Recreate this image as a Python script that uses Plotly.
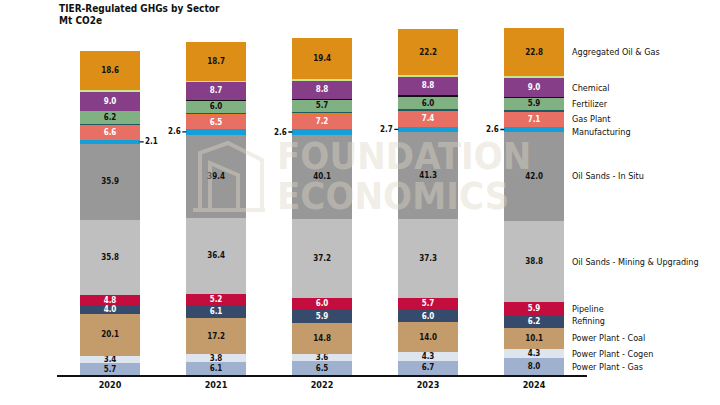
import plotly.graph_objects as go

years = ["2020", "2021", "2022", "2023", "2024"]
totals = [153.9, 158.3, 160.0, 164.5, 164.7]

# bottom to top
series_names = [
    "Power Plant - Gas", "Power Plant - Cogen", "Power Plant - Coal", "Refining",
    "Pipeline", "Oil Sands - Mining & Upgrading", "Oil Sands - In Situ",
    "Manufacturing", "Gas Plant", "Other A", "Other B", "Fertilizer", "Other C",
    "Chemical", "Other D", "Aggregated Oil & Gas",
]
pp_gas = [5.7, 6.1, 6.5, 6.7, 8.0]
pp_cogen = [3.4, 3.8, 3.6, 4.3, 4.3]
pp_coal = [20.1, 17.2, 14.8, 14.0, 10.1]
refining = [4.0, 6.1, 5.9, 6.0, 6.2]
pipeline = [4.8, 5.2, 6.0, 5.7, 5.9]
os_mining = [35.8, 36.4, 37.2, 37.3, 38.8]
os_insitu = [35.9, 39.4, 40.1, 41.3, 42.0]
manufacturing = [2.1, 2.6, 2.6, 2.7, 2.6]
gas_plant = [6.6, 6.5, 7.2, 7.4, 7.1]
other_a = [0.5, 0.9, 0.8, 0.2, 0.2]
other_b = [0.4, 0.3, 0.4, 0.5, 0.6]
fertilizer = [6.2, 6.0, 5.7, 6.0, 5.9]
other_c = [0.1, 0.2, 0.5, 0.8, 0.2]
chemical = [9.0, 8.7, 8.8, 8.8, 9.0]
other_d = [0.7, 0.2, 0.5, 0.6, 1.0]
agg_og = [18.6, 18.7, 19.4, 22.2, 22.8]

series_values = [pp_gas, pp_cogen, pp_coal, refining, pipeline, os_mining, os_insitu,
                 manufacturing, gas_plant, other_a, other_b, fertilizer, other_c,
                 chemical, other_d, agg_og]
colors = ["#9fb1cf", "#dfe5ef", "#c49c6b", "#364b6c", "#c30d3e", "#bfbfbf", "#989898",
          "#149fd9", "#e86f63", "#ea7a2a", "#1e5b63", "#80b183", "#111111",
          "#873e88", "#c9e68c", "#dd8e17"]
text_colors = ["#111", "#111", "#111", "#fff", "#fff", "#111", "#111",
               "#111", "#fff", "#111", "#111", "#111", "#111",
               "#fff", "#111", "#111"]
show_inside = [True, True, True, True, True, True, True,
               False, True, False, False, True, False, True, False, True]
legend_shown = [True, True, True, True, True, True, True,
                True, True, False, False, True, False, True, False, True]
legend_yshift = {"Manufacturing": -2.5}

FONT = "DejaVu Sans Condensed, DejaVu Sans, sans-serif"
BAR_W = 0.56

fig = go.Figure()
for name, vals, col, tcol, ins in zip(series_names, series_values, colors, text_colors, show_inside):
    fig.add_trace(go.Bar(
        x=years, y=vals, name=name, marker=dict(color=col, line=dict(width=0)),
        width=BAR_W,
        text=[f"<b>{v:.1f}</b>" for v in vals] if ins else None,
        textposition="inside" if ins else "none",
        insidetextanchor="middle", textangle=0,
        textfont=dict(color=tcol, size=8, family=FONT),
        hoverinfo="skip",
    ))

annotations = []
# totals
for yr, t in zip(years, totals):
    annotations.append(dict(x=yr, y=t, text=f"<b>{t:.1f}</b>", showarrow=False,
                            yanchor="bottom", yshift=1,
                            font=dict(size=8, color="#111", family=FONT)))

# manufacturing callouts
idx_m = series_names.index("Manufacturing")
for i, yr in enumerate(years):
    base = sum(series_values[k][i] for k in range(idx_m))
    mid = base + manufacturing[i] / 2
    side = 1 if i == 0 else -1
    annotations.append(dict(x=i + side * BAR_W / 2, y=mid, xref="x", yref="y",
                            text=f"<b>{manufacturing[i]:.1f}</b>", showarrow=True,
                            arrowhead=0, arrowwidth=1.3, arrowcolor="#111",
                            ax=side * 12, ay=0, standoff=0,
                            font=dict(size=8, color="#111", family=FONT)))

# right side labels next to 2024 segments
last = len(years) - 1
cum = 0.0
for name, vals, shown in zip(series_names, series_values, legend_shown):
    mid = cum + vals[last] / 2
    cum += vals[last]
    if shown:
        annotations.append(dict(x=last + 0.335, y=mid, xref="x", yref="y",
                                text=name, showarrow=False, xanchor="left",
                                yshift=legend_yshift.get(name, 0),
                                font=dict(size=9, color="#111", family=FONT)))

# title
annotations.append(dict(x=0, y=1.0, xref="paper", yref="paper", yshift=12,
                        text="<b>TIER-Regulated GHGs by Sector</b>",
                        showarrow=False, xanchor="left", yanchor="middle",
                        font=dict(size=10, color="#111", family=FONT)))
annotations.append(dict(x=0, y=1.0, xref="paper", yref="paper", yshift=0,
                        text="<b>Mt CO2e</b>",
                        showarrow=False, xanchor="left", yanchor="middle",
                        font=dict(size=10, color="#111", family=FONT)))

# watermark
wm_col = "rgba(222,212,198,0.42)"
annotations.append(dict(x=0.411, y=0.617, xref="paper", yref="paper",
                        text="<b>FOUNDATION</b>", showarrow=False, xanchor="left", yanchor="middle",
                        font=dict(size=38, color=wm_col, family=FONT)))
annotations.append(dict(x=0.411, y=0.503, xref="paper", yref="paper",
                        text="<b>ECONOMICS</b>", showarrow=False, xanchor="left", yanchor="middle",
                        font=dict(size=38, color=wm_col, family=FONT)))

shapes = [
    dict(type="path", xref="paper", yref="paper",
         path=("M 0.2698,0.4648 L 0.2698,0.6254 L 0.3226,0.6535 L 0.3868,0.6056 L 0.3868,0.4648 "
               "M 0.2887,0.4648 L 0.2887,0.5972 L 0.3415,0.5634 L 0.3415,0.4648 "
               "M 0.2566,0.4648 L 0.3925,0.4648"),
         line=dict(color=wm_col, width=4)),
]

fig.update_layout(
    width=720, height=405,
    margin=dict(l=57, r=133, t=20, b=30),
    barmode="stack",
    plot_bgcolor="white", paper_bgcolor="white",
    showlegend=False,
    annotations=annotations, shapes=shapes,
    uniformtext=dict(minsize=8, mode="show"),
    xaxis=dict(type="category", range=[-0.5, 4.5], showline=True, linecolor="#111", linewidth=1.5,
               ticks="", tickfont=dict(size=9, color="#111", family=FONT), showgrid=False,
               tickvals=years, ticktext=[f"<b>{y}</b>" for y in years]),
    yaxis=dict(range=[0, 168.6], visible=False, showgrid=False),
    font=dict(family=FONT),
)

fig.write_html("out.html", config={"displayModeBar": False},
               post_script="document.body.style.margin='0';document.body.style.overflow='hidden';")
